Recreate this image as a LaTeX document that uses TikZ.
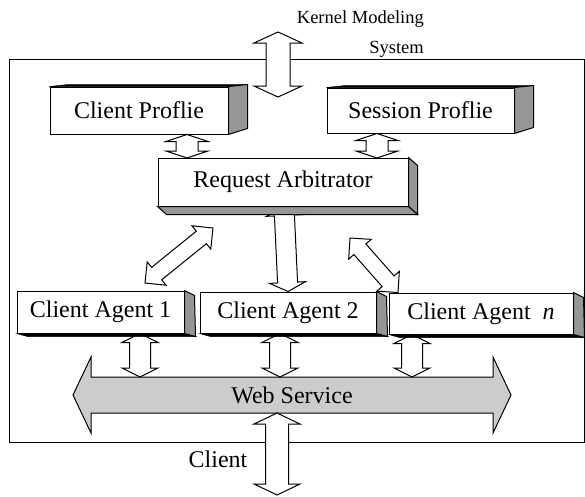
\documentclass[tikz,border=0pt]{standalone}
\usepackage{fontspec}
\setmainfont{Liberation Serif}
\usetikzlibrary{calc}
\definecolor{sidegray}{RGB}{150,150,150}
\definecolor{busgray}{RGB}{204,204,204}
\tikzset{
  box/.style={draw,fill=white,line width=1pt,inner sep=0pt},
  sideface/.style={draw,fill=sidegray,line width=1pt},
  edgeface/.style={draw,fill=black,line width=0.5pt},
  fatarrow/.style n args={3}{draw,fill=white,line width=1pt,to path={
    (\tikztostart) -- ($(\tikztostart)!#3!(\tikztotarget)!#2!90:(\tikztotarget)$)
    -- ($(\tikztostart)!#3!(\tikztotarget)!#1!90:(\tikztotarget)$)
    -- ($(\tikztotarget)!#3!(\tikztostart)!#1!-90:(\tikztostart)$)
    -- ($(\tikztotarget)!#3!(\tikztostart)!#2!-90:(\tikztostart)$)
    -- (\tikztotarget)
    -- ($(\tikztotarget)!#3!(\tikztostart)!#2!90:(\tikztostart)$)
    -- ($(\tikztotarget)!#3!(\tikztostart)!#1!90:(\tikztostart)$)
    -- ($(\tikztostart)!#3!(\tikztotarget)!#1!-90:(\tikztotarget)$)
    -- ($(\tikztostart)!#3!(\tikztotarget)!#2!-90:(\tikztotarget)$)
    -- cycle}},
}

\begin{document}
\begin{tikzpicture}[x=1pt,y=-1pt,font=\fontsize{24}{28}\selectfont]
\useasboundingbox (0,0) rectangle (585,496);
\draw[line width=1pt] (9,59) rectangle (584,442);

\node[box,minimum width=178pt,minimum height=47pt] (cp) at (139,110.5) {Client Proflie};
\node[box,minimum width=187pt,minimum height=45pt] (sp) at (420.5,110.5) {Session Proflie};
\node[box,minimum width=250pt,minimum height=48pt] (ra) at (283,182) {Request Arbitrator};
\node[box,minimum width=167pt,minimum height=42pt] (ag1) at (100.5,312) {Client Agent 1};
\node[box,minimum width=176pt,minimum height=41pt] (ag2) at (288,312.5) {Client Agent 2};
\node[box,minimum width=184pt,minimum height=41pt] (agn) at (481,313.5) {Client Agent \ \textit{n}};

\node[font=\fontsize{18.5}{30}\selectfont,align=right,anchor=north east,inner sep=0pt] (kms) at (424,10) {Kernel Modeling\\System};
\node[anchor=base] (cl) at (218,467) {Client};

\coordinate (kout) at (278,32);
\coordinate (kin) at (278,97);
\coordinate (r1) at (213,228);
\coordinate (a1) at (145,283);
\coordinate (r2) at (350,238);
\coordinate (a2) at (398,291);
\coordinate (r3) at (284,207);
\coordinate (a3) at (288,291);
\coordinate (p1) at (187,158);
\coordinate (p2) at (377,158);
\coordinate (w1) at (140,377);
\coordinate (w2) at (280,377);
\coordinate (w3) at (412,377);
\coordinate (wsl) at (73,395);
\coordinate (wsr) at (511,395);
\coordinate (cin) at (277,413);
\coordinate (cout) at (277,495);

\draw[fatarrow={18pt}{38pt}{18pt},fill=busgray] (wsl) to (wsr);
\node (ws) at (292,395) {Web Service};

\draw[fatarrow={12pt}{24pt}{11pt}] (kout) to (kin);
\draw[fatarrow={11pt}{21pt}{7pt}] (cp.south -| p1) to (p1);
\draw[fatarrow={11pt}{21pt}{7pt}] (sp.south -| p2) to (p2);
\draw[fatarrow={8pt}{15pt}{15pt}] (r1) to (a1);
\draw[fatarrow={8pt}{15pt}{15pt}] (r2) to (agn.north -| a2);
\draw[fatarrow={10pt}{18pt}{9pt}] (ra.south -| r3) to (ag2.north -| a3);
\draw[fatarrow={10.5pt}{18pt}{9pt}] (ag1.south -| w1) to (w1);
\draw[fatarrow={10.5pt}{18pt}{9pt}] (ag2.south -| w2) to (w2);
\draw[fatarrow={10.5pt}{18pt}{9pt}] (agn.south -| w3) to (w3);
\draw[fatarrow={11.5pt}{23pt}{11pt}] (cin) to (cout);

\foreach \b in {cp,sp} {
  \draw[edgeface] (\b.north west) -- ++(19,-2) -- ($(\b.north east)+(19,-2)$) -- (\b.north east) -- cycle;
  \draw[sideface] (\b.north east) -- ++(19,-2) -- ($(\b.south east)+(19,-6)$) -- (\b.south east) -- cycle;
}
\draw[sideface] (ra.north east) -- ++(9,8) -- ($(ra.south east)+(9,8)$) -- (ra.south east) -- cycle;
\draw[sideface] (ra.south west) -- ++(9,8) -- ($(ra.south east)+(9,8)$) -- (ra.south east) -- cycle;
\foreach \b in {ag1,ag2,agn} {
  \draw[edgeface] (\b.south west) -- ++(11,3) -- ($(\b.south east)+(11,3)$) -- (\b.south east) -- cycle;
  \draw[sideface] (\b.north east) -- ++(10,5) -- ($(\b.south east)+(11,3)$) -- (\b.south east) -- cycle;
}
\end{tikzpicture}
\end{document}
